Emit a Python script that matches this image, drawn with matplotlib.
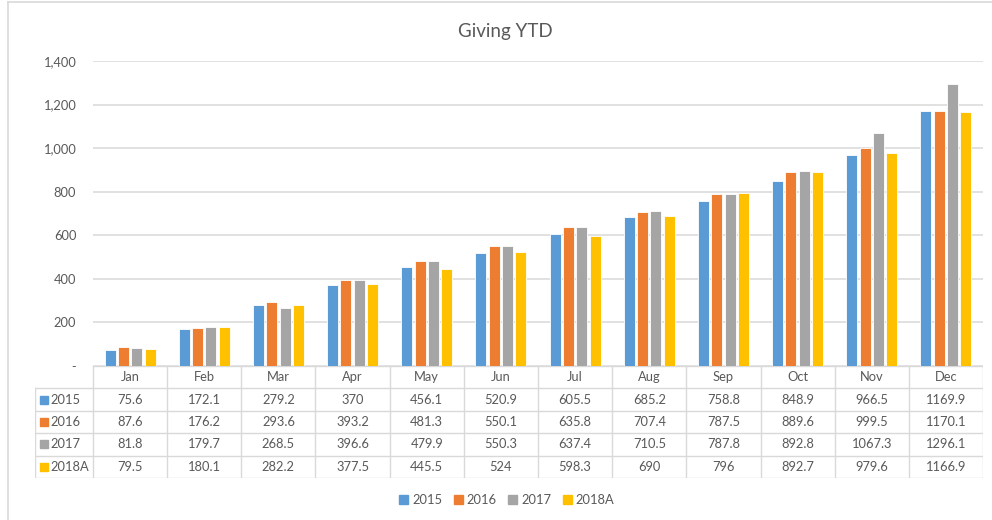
import matplotlib
matplotlib.use("Agg")
import matplotlib.pyplot as plt
from matplotlib.lines import Line2D
from matplotlib.patches import Rectangle
import numpy as np

months = ["Jan", "Feb", "Mar", "Apr", "May", "Jun", "Jul", "Aug", "Sep", "Oct", "Nov", "Dec"]
series_names = ["2015", "2016", "2017", "2018A"]
v2015 = [75.6, 172.1, 279.2, 370, 456.1, 520.9, 605.5, 685.2, 758.8, 848.9, 966.5, 1169.9]
v2016 = [87.6, 176.2, 293.6, 393.2, 481.3, 550.1, 635.8, 707.4, 787.5, 889.6, 999.5, 1170.1]
v2017 = [81.8, 179.7, 268.5, 396.6, 479.9, 550.3, 637.4, 710.5, 787.8, 892.8, 1067.3, 1296.1]
v2018A = [79.5, 180.1, 282.2, 377.5, 445.5, 524, 598.3, 690, 796, 892.7, 979.6, 1166.9]
table_text_2015 = ["75.6", "172.1", "279.2", "370", "456.1", "520.9", "605.5", "685.2", "758.8", "848.9", "966.5", "1169.9"]
table_text_2016 = ["87.6", "176.2", "293.6", "393.2", "481.3", "550.1", "635.8", "707.4", "787.5", "889.6", "999.5", "1170.1"]
table_text_2017 = ["81.8", "179.7", "268.5", "396.6", "479.9", "550.3", "637.4", "710.5", "787.8", "892.8", "1067.3", "1296.1"]
table_text_2018A = ["79.5", "180.1", "282.2", "377.5", "445.5", "524", "598.3", "690", "796", "892.7", "979.6", "1166.9"]
yticks = [0, 200, 400, 600, 800, 1000, 1200, 1400]
ytick_labels = ["-", "200", "400", "600", "800", "1,000", "1,200", "1,400"]

values = [v2015, v2016, v2017, v2018A]
texts = [table_text_2015, table_text_2016, table_text_2017, table_text_2018A]
colors = ["#5B9BD5", "#ED7D31", "#A5A5A5", "#FFC000"]
text_color = "#595959"
grid_color = "#D9D9D9"

plt.rcParams['font.family'] = ['Lato', 'DejaVu Sans']

W, H = 992, 520
fig = plt.figure(figsize=(W / 100, H / 100), dpi=100)

def fx(px):
    return px / W

def fy(py):
    return 1 - py / H

# main axes: x 93..983, y 61..366 (1400..0)
x0, x1 = 93, 983
yt, yb = 61, 366
ax = fig.add_axes([fx(x0), fy(yb), fx(x1) - fx(x0), fy(yt) - fy(yb)])
x = np.arange(len(months))
bw = 0.148
step = 0.18
for i, (vals, c, name) in enumerate(zip(values, colors, series_names)):
    ax.bar(x + (i - 1.5) * step, vals, width=bw, color=c, edgecolor="white",
           linewidth=0.6, label=name, zorder=3)
ax.set_xlim(-0.5, len(months) - 0.5)
ax.set_ylim(0, 1400)
ax.set_yticks(yticks)
ax.set_yticklabels(ytick_labels)
ax.yaxis.grid(True, color=grid_color, linewidth=1.1, zorder=0)
ax.set_xticks([])
for s in ax.spines.values():
    s.set_visible(False)
ax.tick_params(axis="y", length=0, pad=12, labelsize=9.3, labelcolor=text_color)
fig.text(fx(505), fy(31), "Giving YTD", ha="center", va="center", fontsize=13.5, color=text_color)

# data table
tl = 35
row_h = 22.4
tab_top = 366
nrows = 5
unit = (x1 - x0) / len(months)
lab_units = (x0 - tl) / unit
tax = fig.add_axes([fx(tl), fy(tab_top + nrows * row_h), fx(x1) - fx(tl), fy(tab_top) - fy(tab_top + nrows * row_h)])
tax.set_xlim(-0.5 - lab_units, len(months) - 0.5)
tax.set_ylim(nrows, 0)
tax.axis("off")
lw = 1.0
tax.plot([-0.5, len(months) - 0.5], [0, 0], color=grid_color, lw=lw)
for r in range(1, nrows + 1):
    tax.plot([-0.5 - lab_units, len(months) - 0.5], [r, r], color=grid_color, lw=lw)
for k in range(len(months) + 1):
    tax.plot([k - 0.5, k - 0.5], [0, nrows], color=grid_color, lw=lw)
tax.plot([-0.5 - lab_units, -0.5 - lab_units], [1, nrows], color=grid_color, lw=lw)
for j, m in enumerate(months):
    tax.text(j, 0.5, m, ha="center", va="center", fontsize=9.3, color=text_color)
for i, (name, c, tx) in enumerate(zip(series_names, colors, texts)):
    r = i + 1.5
    sq_w = 8 / unit
    tax.add_patch(Rectangle((-0.5 - lab_units + 5 / unit, r - 0.18), sq_w, 0.36,
                            color=c, clip_on=False))
    tax.text(-0.5 - lab_units + 15 / unit, r, name, ha="left", va="center",
             fontsize=9.3, color=text_color)
    for j, t in enumerate(tx):
        tax.text(j, r, t, ha="center", va="center", fontsize=9.3, color=text_color)

# legend
handles = [Rectangle((0, 0), 1, 1, color=c) for c in colors]
fig.legend(handles, series_names, loc="center", bbox_to_anchor=(fx(507), fy(500)),
           ncol=4, frameon=False, fontsize=9.3, handlelength=0.7, handleheight=0.7,
           handletextpad=0.3, columnspacing=0.9, labelcolor=text_color)

# chart frame
fig.add_artist(Line2D([fx(8), 1], [fy(2), fy(2)], color=grid_color, lw=1.2))
fig.add_artist(Line2D([fx(8), fx(8)], [fy(2), 0], color=grid_color, lw=1.2))

fig.savefig("out.png", dpi=100)
